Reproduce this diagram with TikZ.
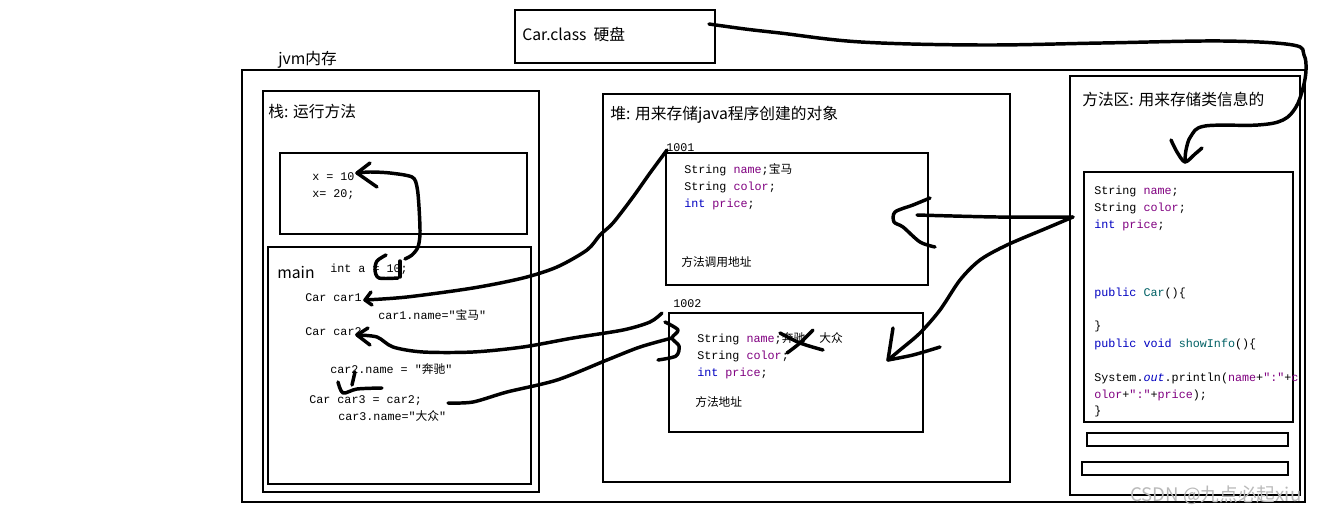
\documentclass[tikz,border=0pt]{standalone}
\usepackage{fontspec}
\setmonofont{Liberation Mono}
\newfontfamily\cjk{Noto Sans CJK SC}
\definecolor{fieldc}{RGB}{128,0,128}
\definecolor{kwc}{RGB}{0,0,192}
\definecolor{methc}{RGB}{0,96,100}
\definecolor{markc}{RGB}{185,185,185}
\newcommand{\fld}[1]{\textcolor{fieldc}{#1}}
\newcommand{\kw}[1]{\textcolor{kwc}{#1}}
\newcommand{\mth}[1]{\textcolor{methc}{#1}}
\newcommand{\zh}[1]{{\cjk #1}}

\begin{document}
\begin{tikzpicture}[x=0.75pt, y=-0.75pt, box/.style={draw, line width=0.8pt}, pen/.style={line width=2.6pt, line cap=round, line join=round}, code/.style={anchor=base west, inner sep=0pt, font=\ttfamily\fontsize{8.8}{10}\selectfont}, title/.style={anchor=base west, inner sep=0pt, font=\cjk\fontsize{11.8}{13}\selectfont}]

\useasboundingbox (0,0) rectangle (1321,514);

\draw[box] (515,10) rectangle (715,63);
\draw[box] (242,70) rectangle (1305,502);
\draw[box] (263,91) rectangle (539,492);
\draw[box] (280,153) rectangle (527,234);
\draw[box] (268,247) rectangle (531,484);
\draw[box] (603,94) rectangle (1010,482);
\draw[box] (666,153) rectangle (928,285);
\draw[box] (669,313) rectangle (923,432);
\draw[box] (1070,76) rectangle (1300,495);
\draw[box] (1084,172) rectangle (1293,422);
\draw[box] (1087,433) rectangle (1288,446);
\draw[box] (1082,462) rectangle (1288,475);

\node[title] (clsLbl) at (522,40) {Car.class\ \ 硬盘};
\node[title] (jvmLbl) at (278,64) {jvm内存};
\node[title] (stackLbl) at (268,117) {栈: 运行方法};
\node[title] (heapLbl) at (610,119) {堆: 用来存储java程序创建的对象};
\node[title] (methLbl) at (1082,105) {方法区: 用来存储类信息的};
\node[title] (mainLbl) at (277,278) {main};

\node[code] (xTen) at (312,180) {x = 10};
\node[code] (xTwenty) at (312,197) {x= 20;};
\node[code] (intA) at (330,272) {int a = 10;};
\node[code] (carOne) at (305,301) {Car car1};
\node[code] (carOneName) at (378,319) {car1.name="\zh{宝马}"};
\node[code] (carTwo) at (305,335) {Car car2};
\node[code] (carTwoName) at (330,373) {car2.name = "\zh{奔驰}"};
\node[code] (carThree) at (309,403) {Car car3 = car2;};
\node[code] (carThreeName) at (338,420) {car3.name="\zh{大众}"};

\node[code] (addrOne) at (666,151) {1001};
\node[code] (objOneA) at (684,173) {String \fld{name};\zh{宝马}};
\node[code] (objOneB) at (684,190) {String \fld{color};};
\node[code] (objOneC) at (684,207) {\kw{int} \fld{price};};
\node[code] (objOneD) at (681,266) {\zh{方法调用地址}};

\node[code] (addrTwo) at (673,307) {1002};
\node[code] (objTwoA) at (697,342) {String \fld{name};\zh{奔驰}\ \ \zh{大众}};
\node[code] (objTwoB) at (697,359) {String \fld{color};};
\node[code] (objTwoC) at (697,376) {\kw{int} \fld{price};};
\node[code] (objTwoD) at (695,406) {\zh{方法地址}};

\node[code] (clsA) at (1094,194) {String \fld{name};};
\node[code] (clsB) at (1094,211) {String \fld{color};};
\node[code] (clsC) at (1094,228) {\kw{int} \fld{price};};
\node[code] (clsD) at (1094,296) {\kw{public} \mth{Car}()\{};
\node[code] (clsE) at (1094,329) {\}};
\node[code] (clsF) at (1094,347) {\kw{public} \kw{void} \mth{showInfo}()\{};
\node[code] (clsG) at (1094,381) {System.\kw{\itshape out}.println(\fld{name}+\fld{":"}+\fld{c}};
\node[code] (clsH) at (1094,398) {\fld{olor}+\fld{":"}+\fld{price});};
\node[code] (clsI) at (1094,414) {\}};

\node[anchor=base west, inner sep=0pt, font=\cjk\fontsize{14}{16}\selectfont, text=markc] (mark) at (1130,501) {CSDN @九点必起xiu};

\coordinate (clsOut) at (709,24);
\coordinate (methIn) at (1185,162);
\draw[pen] plot[smooth, tension=0.6] coordinates {(clsOut) (745,29) (780,33) (861,42) (981,45) (1102,43) (1222,41) (1293,45) (1304,55) (1306,70) (1303,88) (1296,107) (1283,120) (1258,125) (1205,126) (1191,136) (1186,150) (methIn)};
\draw[pen] plot[smooth] coordinates {(1171,140) (1177,152) (methIn) (1195,154) (1202,148)};

\coordinate (aOut) at (405,259);
\coordinate (xIn) at (357,173);
\draw[pen] plot[smooth] coordinates {(aOut) (412,255) (418,247) (420,233) (419,207) (417,187) (412,177) (390,173) (370,172) (xIn)};
\draw[pen] (370,163) -- (xIn) -- (377,187);
\draw[pen] plot[smooth] coordinates {(386,255) (377,261) (375,270) (379,278) (398,278)};
\draw[pen] (400,261) -- (400,277);

\coordinate (oneOut) at (667,150);
\coordinate (carOneIn) at (365,300);
\draw[pen] plot[smooth] coordinates {(oneOut) (650,173) (633,197) (613,223) (600,235) (587,250) (557,267) (523,278) (473,288) (407,297) (carOneIn)};
\draw[pen] (371,292) -- (carOneIn) -- (372,305);

\coordinate (twoOut) at (662,313);
\coordinate (carTwoIn) at (357,335);
\draw[pen] plot[smooth] coordinates {(twoOut) (650,322) (623,330) (573,338) (523,347) (473,352) (423,352) (393,347) (377,337) (carTwoIn)};
\draw[pen] (368,328) -- (carTwoIn) -- (370,345);

\coordinate (threeOut) at (448,403);
\coordinate (twoIn) at (672,338);
\draw[pen] plot[smooth] coordinates {(threeOut) (473,402) (507,392) (557,380) (607,360) (640,347) (twoIn)};
\draw[pen] plot[smooth] coordinates {(665,322) (678,330) (twoIn) (679,346) (676,356) (658,360)};

\draw[pen] (355,372) -- (352,385);
\draw[pen] plot[smooth] coordinates {(338,382) (343,393) (357,389) (382,388)};

\draw[pen] plot[smooth] coordinates {(780,333) (800,343) (823,350)};
\draw[pen] plot[smooth] coordinates {(813,330) (800,343) (787,353)};

\coordinate (methOut) at (1073,217);
\coordinate (objOneIn) at (917,215);
\coordinate (objTwoIn) at (888,360);
\draw[pen] plot[smooth] coordinates {(methOut) (997,217) (objOneIn)};
\draw[pen] plot[smooth] coordinates {(930,198) (913,205) (895,212) (894,222) (903,227) (920,242) (935,247)};
\draw[pen] plot[smooth] coordinates {(methOut) (1047,228) (1007,245) (980,260) (960,280) (940,310) (920,333) (900,350) (objTwoIn)};
\draw[pen] (893,328) -- (objTwoIn);
\draw[pen] plot[smooth] coordinates {(objTwoIn) (913,355) (940,347)};

\end{tikzpicture}
\end{document}
